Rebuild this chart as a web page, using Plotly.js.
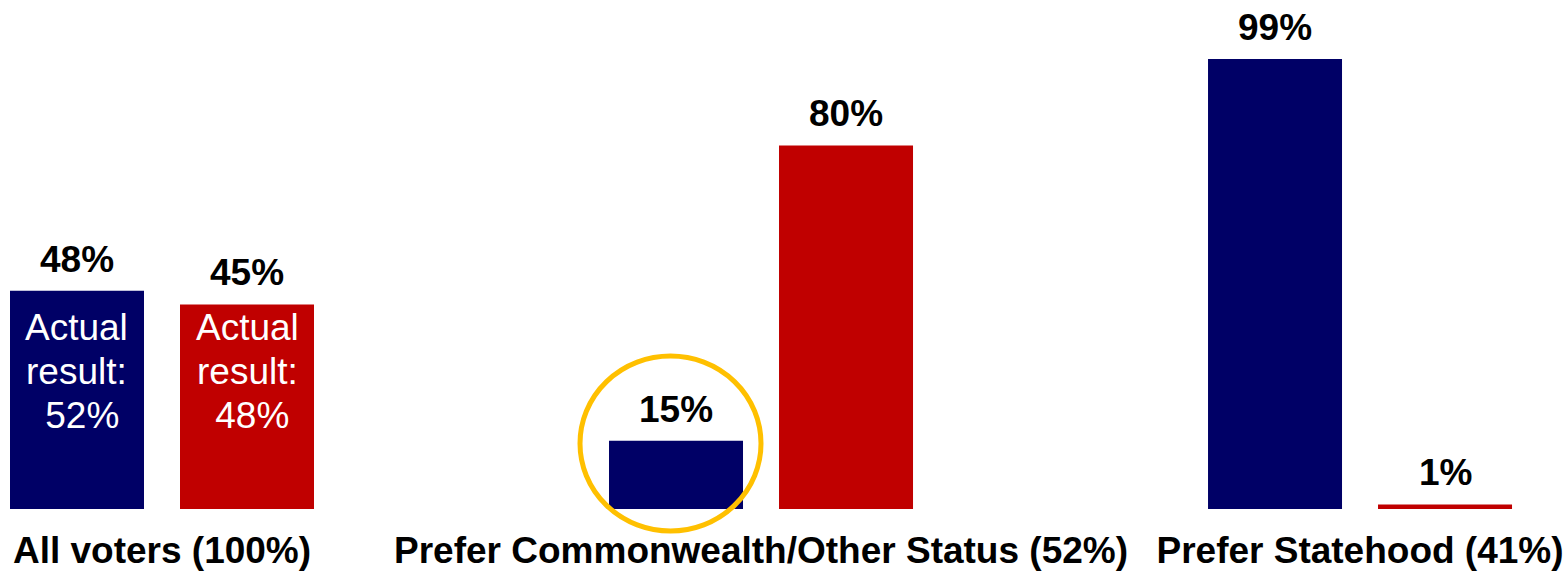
<!DOCTYPE html>
<html>
<head>
<meta charset="utf-8">
<script src="https://cdn.plot.ly/plotly-3.0.1.min.js"></script>
<style>
  html, body { margin: 0; padding: 0; background: #ffffff; }
  #chart { width: 1568px; height: 573px; }
</style>
</head>
<body>
<div id="chart"></div>
<script>
// ---- data ----
const categories = ['All voters (100%)', 'Prefer Commonwealth/Other Status (52%)', 'Prefer Statehood (41%)'];
const blueValues = [48, 15, 99];
const redValues = [45, 80, 1];
const blueActual = [52, null, null];
const redActual = [48, null, null];
const actualLines = ['Actual', 'result:'];

// ---- layout params ----
const W = 1568, H = 573;
const FONT = 'Liberation Sans, Arial, sans-serif';
const BLUE = '#000066';
const RED = '#C00000';
const xRange = [-0.27045, 2.3472];
const bargap = 0.43239;
const bargroupgap = 0.21176;
const pxPerCat = W / (xRange[1] - xRange[0]);
const slot = pxPerCat * (1 - bargap) / 2;
const off = slot / 2;

const traces = [
  { type: 'bar', x: categories, y: blueValues, marker: { color: BLUE }, hoverinfo: 'skip', showlegend: false },
  { type: 'bar', x: categories, y: redValues, marker: { color: RED }, hoverinfo: 'skip', showlegend: false }
];

const annotations = [];
function addValueLabels(vals, shift) {
  vals.forEach((v, i) => {
    annotations.push({
      x: categories[i], y: v, xref: 'x', yref: 'y',
      xshift: shift, yshift: 9, yanchor: 'bottom', xanchor: 'center',
      text: '<b>' + v + '%</b>', showarrow: false,
      font: { family: FONT, size: 37, color: '#000000' }
    });
  });
}
addValueLabels(blueValues, -off);
addValueLabels(redValues, off);

function addActual(vals, shift) {
  vals.forEach((v, i) => {
    if (v === null) return;
    const lines = actualLines.concat(['\u00a0' + v + '%']);
    lines.forEach((t, k) => {
      annotations.push({
        x: categories[i], y: 1, xref: 'x', yref: 'paper',
        xshift: shift, yshift: -(305 + 44 * k), yanchor: 'top', xanchor: 'center',
        text: t, showarrow: false,
        font: { family: FONT, size: 37, color: '#ffffff' }
      });
    });
  });
}
addActual(blueActual, -off);
addActual(redActual, off);

const plotH = 509;
const layout = {
  width: W, height: H,
  margin: { l: 0, r: 0, t: 0, b: H - plotH, pad: 0 },
  paper_bgcolor: '#ffffff', plot_bgcolor: '#ffffff',
  barmode: 'group', bargap: bargap, bargroupgap: bargroupgap,
  xaxis: {
    type: 'category', range: xRange, showgrid: false, zeroline: false, showline: false,
    ticks: '', tickfont: { family: FONT, size: 37, color: '#000000', weight: 'bold' },
    ticklabelstandoff: 16, fixedrange: true
  },
  yaxis: { range: [0, 112], visible: false, showgrid: false, zeroline: false, fixedrange: true },
  annotations: annotations,
  shapes: [{
    type: 'circle', xref: 'paper', yref: 'paper',
    x0: 580 / W, x1: 761 / W,
    y0: (plotH - 531) / plotH, y1: (plotH - 356) / plotH,
    line: { color: '#FFC000', width: 5 }, fillcolor: 'rgba(0,0,0,0)', layer: 'above'
  }],
  font: { family: FONT }
};

Plotly.newPlot('chart', traces, layout, { displayModeBar: false, staticPlot: true });
</script>
</body>
</html>
